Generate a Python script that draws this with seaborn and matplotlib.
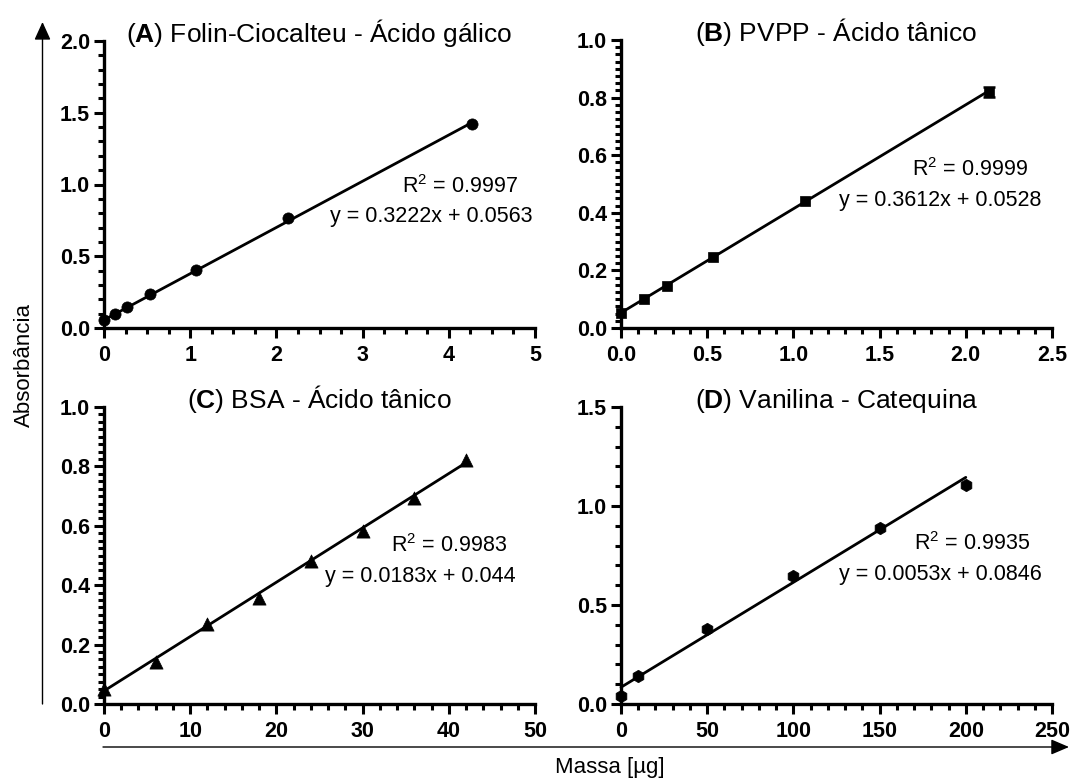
import numpy as np
import pandas as pd
import seaborn as sns
import matplotlib
matplotlib.use("Agg")
import matplotlib.pyplot as plt
from matplotlib.patches import FancyArrowPatch
from matplotlib.ticker import MultipleLocator

# ---------------- data ----------------
titles = [r"($\mathbf{A}$) Folin-Ciocalteu - Ácido gálico",
          r"($\mathbf{B}$) PVPP - Ácido tânico",
          r"($\mathbf{C}$) BSA - Ácido tânico",
          r"($\mathbf{D}$) Vanilina - Catequina"]

a_x = [0, 0.133, 0.267, 0.533, 1.067, 2.133, 4.267]
a_y = [0.055, 0.100, 0.145, 0.235, 0.405, 0.765, 1.425]

b_x = [0, 0.133, 0.267, 0.533, 1.067, 2.133]
b_y = [0.052, 0.102, 0.147, 0.247, 0.442, 0.820]
b_err = [0, 0, 0, 0, 0, 0.018]

c_x = [0, 6, 12, 18, 24, 30, 36, 42]
c_y = [0.050, 0.142, 0.270, 0.357, 0.482, 0.583, 0.692, 0.822]

d_x = [0, 10, 50, 100, 150, 200]
d_y = [0.038, 0.140, 0.380, 0.648, 0.890, 1.108]

r2_labels = ["0.9997", "0.9999", "0.9983", "0.9935"]
slopes = [0.3222, 0.3612, 0.0183, 0.0053]
intercepts = [0.0563, 0.0528, 0.044, 0.0846]
eq_labels = ["y = 0.3222x + 0.0563", "y = 0.3612x + 0.0528",
             "y = 0.0183x + 0.044", "y = 0.0053x + 0.0846"]

a_xticks = [0, 1, 2, 3, 4, 5]
a_xticklabels = ["0", "1", "2", "3", "4", "5"]
a_yticks = [0.0, 0.5, 1.0, 1.5, 2.0]
a_yticklabels = ["0.0", "0.5", "1.0", "1.5", "2.0"]
b_xticks = [0.0, 0.5, 1.0, 1.5, 2.0, 2.5]
b_xticklabels = ["0.0", "0.5", "1.0", "1.5", "2.0", "2.5"]
b_yticks = [0.0, 0.2, 0.4, 0.6, 0.8, 1.0]
b_yticklabels = ["0.0", "0.2", "0.4", "0.6", "0.8", "1.0"]
c_xticks = [0, 10, 20, 30, 40, 50]
c_xticklabels = ["0", "10", "20", "30", "40", "50"]
c_yticks = [0.0, 0.2, 0.4, 0.6, 0.8, 1.0]
c_yticklabels = ["0.0", "0.2", "0.4", "0.6", "0.8", "1.0"]
d_xticks = [0, 50, 100, 150, 200, 250]
d_xticklabels = ["0", "50", "100", "150", "200", "250"]
d_yticks = [0.0, 0.5, 1.0, 1.5]
d_yticklabels = ["0.0", "0.5", "1.0", "1.5"]

y_label = "Absorbância"
x_label = "Massa [µg]"

# ---------------- style ----------------
sns.set_theme(style="ticks")
plt.rcParams["font.family"] = ["Liberation Sans", "DejaVu Sans"]
plt.rcParams["mathtext.fontset"] = "custom"
plt.rcParams["mathtext.rm"] = "Liberation Sans"
plt.rcParams["mathtext.it"] = "Liberation Sans:italic"
plt.rcParams["mathtext.bf"] = "Liberation Sans:bold"

W, H = 1070, 781
fig = plt.figure(figsize=(W / 100, H / 100), dpi=100)

def px_axes(l, t, r, b):
    return fig.add_axes([l / W, 1 - b / H, (r - l) / W, (b - t) / H])

rects = [(104, 41, 535, 328), (621, 40, 1052, 328),
         (104, 407, 535, 704), (621, 407, 1052, 704)]

panels = [
    dict(x=a_x, y=a_y, err=None, marker="o", s=65,
         xt=a_xticks, xtl=a_xticklabels, yt=a_yticks, ytl=a_yticklabels,
         xminor=0.25, yminor=0.1, r2pos=(4.80, 0.985), eqpos=(4.97, 0.78)),
    dict(x=b_x, y=b_y, err=b_err, marker="s", s=60,
         xt=b_xticks, xtl=b_xticklabels, yt=b_yticks, ytl=b_yticklabels,
         xminor=0.1, yminor=0.025, r2pos=(2.36, 0.549), eqpos=(2.44, 0.444)),
    dict(x=c_x, y=c_y, err=None, marker="^", s=90,
         xt=c_xticks, xtl=c_xticklabels, yt=c_yticks, ytl=c_yticklabels,
         xminor=2, yminor=0.025, r2pos=(46.7, 0.535), eqpos=(47.8, 0.43)),
    dict(x=d_x, y=d_y, err=None, marker="h", s=80,
         xt=d_xticks, xtl=d_xticklabels, yt=d_yticks, ytl=d_yticklabels,
         xminor=10, yminor=0.1, r2pos=(237, 0.81), eqpos=(244, 0.655)),
]

for i, (p, rect) in enumerate(zip(panels, rects)):
    ax = px_axes(*rect)
    df = pd.DataFrame({"x": p["x"], "y": p["y"]})
    xs = np.array([min(p["x"]), max(p["x"])])
    fit = pd.DataFrame({"x": xs, "y": slopes[i] * xs + intercepts[i]})
    sns.lineplot(data=fit, x="x", y="y", ax=ax, color="black", lw=2.0,
                 zorder=3, clip_on=False)
    if p["err"] is not None:
        ex = [xv for xv, ev in zip(p["x"], p["err"]) if ev > 0]
        ey = [yv for yv, ev in zip(p["y"], p["err"]) if ev > 0]
        ee = [ev for ev in p["err"] if ev > 0]
        ax.errorbar(ex, ey, yerr=ee, fmt="none", ecolor="black",
                    elinewidth=1.8, capsize=4, capthick=1.8, zorder=4, clip_on=False)
    sns.scatterplot(data=df, x="x", y="y", ax=ax, marker=p["marker"], s=p["s"],
                    color="black", edgecolor="black", linewidth=0.5,
                    zorder=5, clip_on=False)

    ax.set_xlim(p["xt"][0], p["xt"][-1])
    ax.set_ylim(p["yt"][0], p["yt"][-1])
    ax.set_xticks(p["xt"])
    ax.set_xticklabels(p["xtl"], fontweight="bold", fontsize=15.5)
    ax.set_yticks(p["yt"])
    ax.set_yticklabels(p["ytl"], fontweight="bold", fontsize=15.5)
    ax.xaxis.set_minor_locator(MultipleLocator(p["xminor"]))
    ax.yaxis.set_minor_locator(MultipleLocator(p["yminor"]))
    ax.tick_params(which="major", length=7, width=2.2, color="black",
                   labelcolor="black", pad=3, direction="out")
    ax.tick_params(axis="x", which="major", pad=5)
    ax.tick_params(which="minor", length=4.5, width=2.2, color="black", direction="out")
    for sp in ["top", "right"]:
        ax.spines[sp].set_visible(False)
    for sp in ["left", "bottom"]:
        ax.spines[sp].set_linewidth(2.4)
        ax.spines[sp].set_color("black")
    ax.set_xlabel("")
    ax.set_ylabel("")
    ax.set_facecolor("white")

    ax.text(0.5, 0.996, titles[i], transform=ax.transAxes, ha="center",
            va="baseline", fontsize=19, color="black")
    ax.text(p["r2pos"][0], p["r2pos"][1], "R$^2$ = " + r2_labels[i],
            ha="right", va="center", fontsize=15.5, color="black")
    ax.text(p["eqpos"][0], p["eqpos"][1], eq_labels[i],
            ha="right", va="center", fontsize=15.5, color="black")

# arrows and shared labels
def fx(x):
    return x / W

def fy(y):
    return 1 - y / H

arr_v = FancyArrowPatch((fx(42.5), fy(704)), (fx(42.5), fy(22)),
                        transform=fig.transFigure, arrowstyle="-|>,head_length=11,head_width=5",
                        mutation_scale=1, lw=1.0, color="black", shrinkA=0, shrinkB=0)
arr_h = FancyArrowPatch((fx(103), fy(747)), (fx(1069), fy(747)),
                        transform=fig.transFigure, arrowstyle="-|>,head_length=11,head_width=4.7",
                        mutation_scale=1, lw=1.0, color="black", shrinkA=0, shrinkB=0)
fig.add_artist(arr_v)
fig.add_artist(arr_h)

fig.text(fx(24), fy(365), y_label, rotation=90, ha="center", va="center",
         fontsize=16, color="black")
fig.text(fx(610), fy(768), x_label, ha="center", va="center",
         fontsize=16, color="black")

fig.savefig("out.png", dpi=100, facecolor="white")
